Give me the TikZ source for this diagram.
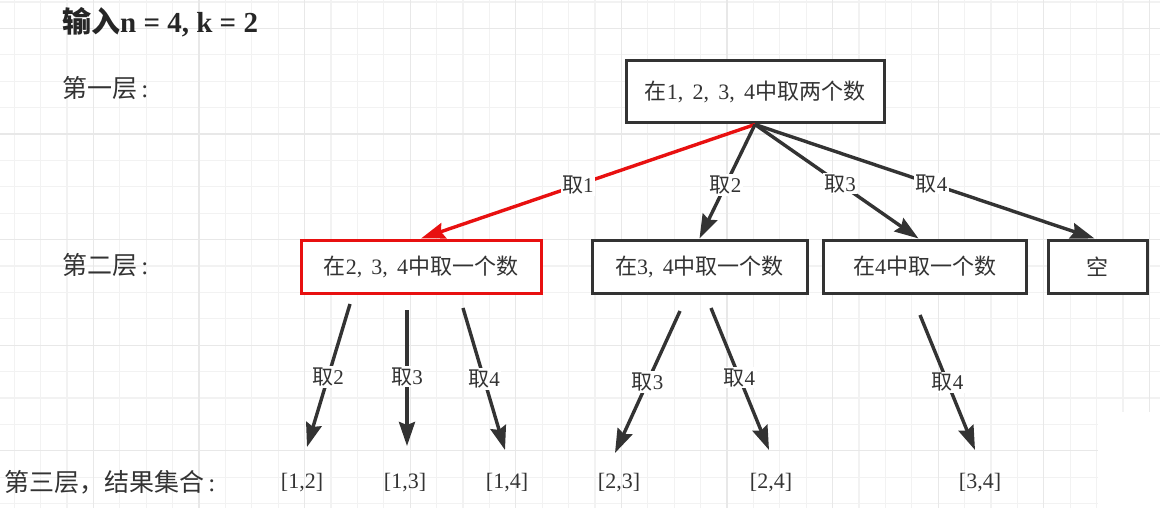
\documentclass[tikz,border=0pt]{standalone}
\usepackage{fontspec}
\setmainfont{Liberation Serif}
\newfontfamily\cjk{Noto Sans CJK SC}
\usetikzlibrary{arrows.meta}
\newcommand\zh[1]{{\cjk #1}}
\newcommand\cm{,\hspace{0.42em}}
\definecolor{ink}{HTML}{333333}
\definecolor{redc}{HTML}{E81010}
\definecolor{gminor}{HTML}{F2F2F2}
\definecolor{gmajor}{HTML}{E8E8E8}
\tikzset{
  box/.style={draw=ink, line width=3pt, minimum height=53pt, inner sep=0pt, fill=white, text=ink, font=\fontsize{22}{26}\selectfont},
  redbox/.style={box, draw=redc},
  tip/.style={-{Stealth[length=24pt,width=16pt,inset=3pt]}},
  conn/.style={draw=ink, line width=3.4pt, tip},
  redconn/.style={conn, draw=redc},
  lab/.style={fill=white, text=ink, inner sep=1.5pt, font=\fontsize{21}{25}\selectfont},
  res/.style={text=ink, inner sep=0pt, font=\fontsize{22}{26}\selectfont},
  level/.style={text=ink, anchor=west, inner sep=0pt, font=\fontsize{25}{30}\selectfont},
}
\begin{document}
\begin{tikzpicture}[x=1pt,y=-1pt]
\useasboundingbox (0,0) rectangle (1160,508);
% grid
\begin{scope}
\clip (0,0) rectangle (1160,508);
\foreach \i in {0,...,43} {
  \pgfmathsetmacro\xx{14.1+26.4*\i}
  \draw[gminor, line width=1.2pt] (\xx,0) -- (\xx,508);
}
\foreach \i in {0,...,19} {
  \pgfmathsetmacro\yy{2+26.4*\i}
  \draw[gminor, line width=1.2pt] (0,\yy) -- (1160,\yy);
}
\foreach \i in {-1,...,10} {
  \pgfmathsetmacro\xx{93.3+105.6*\i}
  \draw[gmajor, line width=1.2pt] (\xx,0) -- (\xx,508);
}
\foreach \i in {0,...,4} {
  \pgfmathsetmacro\yy{28.4+105.6*\i}
  \draw[gmajor, line width=1.2pt] (0,\yy) -- (1160,\yy);
}
\fill[white] (1098,412) rectangle (1160,508);
\end{scope}

% level labels
\node[level, font=\bfseries\fontsize{29}{34}\selectfont, text=black!85] (title) at (62,22) {\zh{输入}n = 4, k = 2};
\node[level] (lv1) at (62,88) {\zh{第一层}\,:};
\node[level] (lv2) at (62,265) {\zh{第二层}\,:};
\node[level] (lv3) at (4,482) {\zh{第三层，结果集合}\,:};

% boxes
\node[box, minimum width=258pt, minimum height=62pt] (root) at (755,92) {\zh{在}1\cm 2\cm 3\cm 4\zh{中取两个数}};
\node[redbox, minimum width=240pt] (b1) at (421,266.5) {\zh{在}2\cm 3\cm 4\zh{中取一个数}};
\node[box, minimum width=215pt] (b2) at (699.5,266.5) {\zh{在}3\cm 4\zh{中取一个数}};
\node[box, minimum width=203pt] (b3) at (924.5,266.5) {\zh{在}4\zh{中取一个数}};
\node[box, minimum width=99pt] (b4) at (1097.5,266.5) {\zh{空}};

% top connectors
\draw[redconn] (root.south) -- node[lab,pos=.53] (t1) {\zh{取}1} (b1.north);
\draw[conn] (root.south) -- node[lab,pos=.53] (t2) {\zh{取}2} (b2.north);
\draw[conn] (root.south) -- node[lab,pos=.52] (t3) {\zh{取}3} ([xshift=-6pt]b3.north);
\draw[conn] (root.south) -- node[lab,pos=.52] (t4) {\zh{取}4} ([xshift=-3pt]b4.north);

% results
\node[res] (r12) at (302,483) {[1,2]};
\node[res] (r13) at (405,483) {[1,3]};
\node[res] (r14) at (507,483) {[1,4]};
\node[res] (r23) at (619,483) {[2,3]};
\node[res] (r24) at (771,483) {[2,4]};
\node[res] (r34) at (980,483) {[3,4]};

% free ends of lower connectors
\coordinate (s12) at (350,304);
\coordinate (e12) at (307,447);
\coordinate (s13) at (407,310);
\coordinate (e13) at (407,446);
\coordinate (s14) at (463,308);
\coordinate (e14) at (505,450);
\coordinate (s23) at (680,311);
\coordinate (e23) at (615,453);
\coordinate (s24) at (711,308);
\coordinate (e24) at (769,450);
\coordinate (s34) at (920,315);
\coordinate (e34) at (975,450);

\draw[conn] (s12) -- node[lab,pos=.51] (u12) {\zh{取}2} (e12);
\draw[conn] (s13) -- node[lab,pos=.49] (u13) {\zh{取}3} (e13);
\draw[conn] (s14) -- node[lab,pos=.5] (u14) {\zh{取}4} (e14);
\draw[conn] (s23) -- node[lab,pos=.5] (u23) {\zh{取}3} (e23);
\draw[conn] (s24) -- node[lab,pos=.49] (u24) {\zh{取}4} (e24);
\draw[conn] (s34) -- node[lab,pos=.5] (u34) {\zh{取}4} (e34);
\end{tikzpicture}
\end{document}
